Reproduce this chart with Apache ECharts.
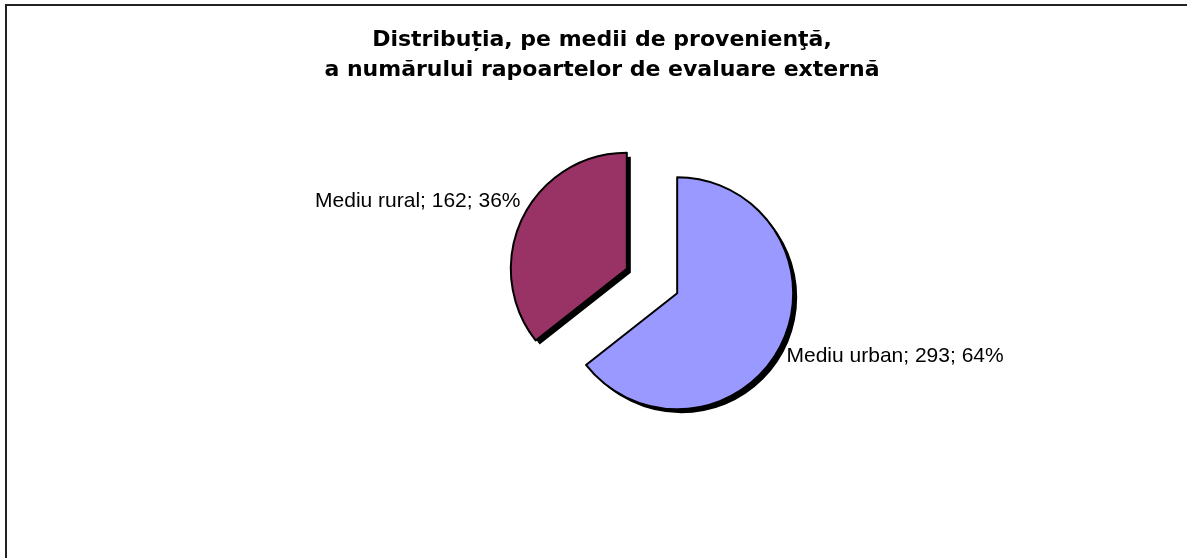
<!DOCTYPE html>
<html>
<head>
<meta charset="utf-8">
<script src="https://cdn.jsdelivr.net/npm/echarts@6/dist/echarts.min.js"></script>
<style>
  html, body { margin: 0; padding: 0; background: #fff; }
  #chart { width: 1187px; height: 558px; }
</style>
</head>
<body>
<div id="chart"></div>
<script>
const titleLines = ['Distribuția, pe medii de provenienţă,', 'a numărului rapoartelor de evaluare externă']
const categories = ['Mediu urban', 'Mediu rural']
const values = [293, 162]
const colors = ['#9999FF', '#993366']

const chart = echarts.init(document.getElementById('chart'))

// shared pie geometry, the shadow copy sits a few px lower right
const pieBase = {
  type: 'pie',
  radius: 116,
  startAngle: 90,
  clockwise: true,
  selectedMode: 'multiple',
  selectedOffset: 28,
  emphasis: { disabled: true }
}

const option = {
  animation: false,
  backgroundColor: '#fff',
  title: {
    text: titleLines.join('\n'),
    left: 602,
    textAlign: 'center',
    top: 25,
    padding: 0,
    textStyle: {
      fontFamily: 'DejaVu Sans',
      fontWeight: 'bold',
      fontSize: 22,
      lineHeight: 30,
      color: '#000'
    }
  },
  graphic: [
    {
      type: 'rect',
      shape: { x: 6, y: 5, width: 1400, height: 800 },
      style: { fill: 'none', stroke: '#222', lineWidth: 2 },
      silent: true
    }
  ],
  series: [
    {
      ...pieBase,
      name: 'shadow',
      center: [656, 285],
      silent: true,
      label: { show: false },
      labelLine: { show: false },
      itemStyle: { color: '#000', borderWidth: 0 },
      data: categories.map((name, i) => ({ name: name, value: values[i], selected: true }))
    },
    {
      ...pieBase,
      center: [652, 281],
      itemStyle: {
        borderColor: '#000',
        borderWidth: 2
      },
      label: {
        show: true,
        position: 'outside',
        fontFamily: 'Liberation Sans',
        fontSize: 21,
        color: '#000',
        formatter: p => p.name + '; ' + p.value + '; ' + Math.round(p.percent) + '%'
      },
      labelLine: { show: false, length: 0, length2: 0 },
      labelLayout: p => ({ dy: p.dataIndex === 0 ? 12 : -17, dx: p.dataIndex === 0 ? 0 : 3 }),
      data: categories.map((name, i) => ({
        name: name,
        value: values[i],
        selected: true,
        itemStyle: { color: colors[i] }
      }))
    }
  ]
}

chart.setOption(option)
</script>
</body>
</html>
